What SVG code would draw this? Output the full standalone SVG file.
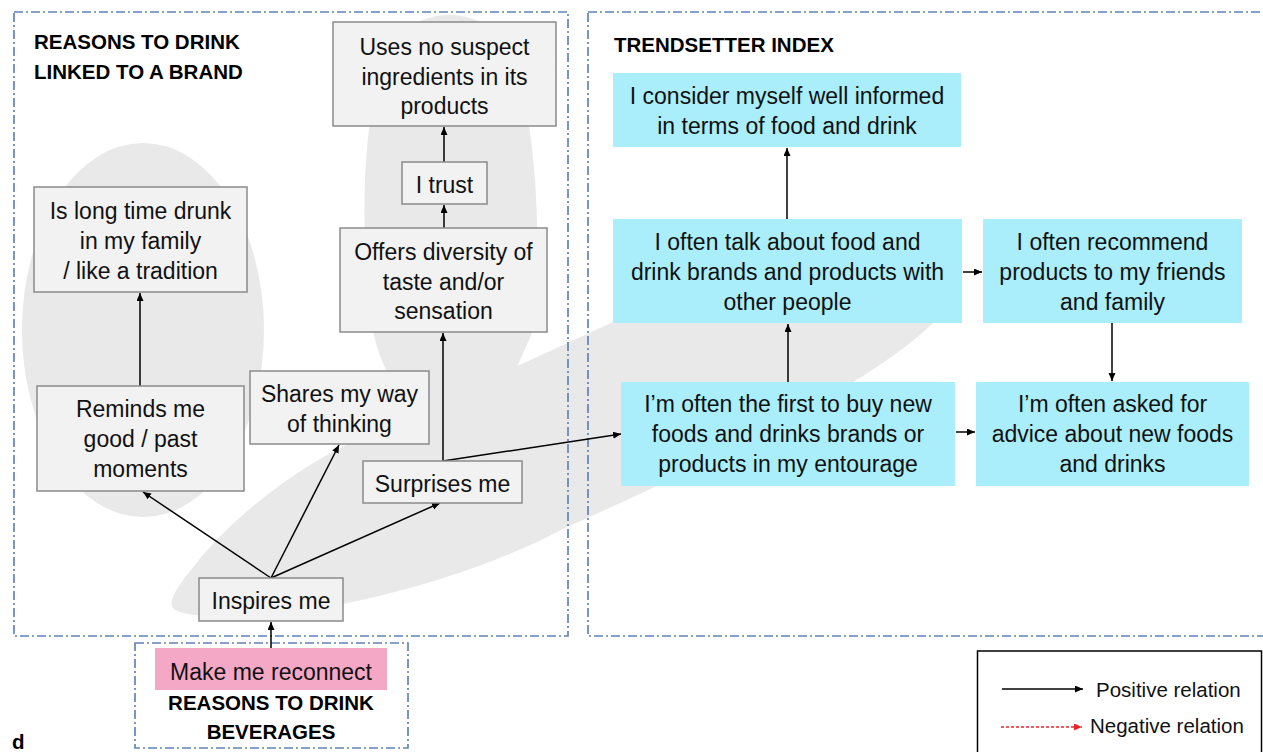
<svg xmlns="http://www.w3.org/2000/svg" width="1263" height="752" viewBox="0 0 1263 752">
<defs>
<marker id="ah" markerWidth="9" markerHeight="8" refX="8" refY="3.5" orient="auto" markerUnits="userSpaceOnUse"><path d="M0,0 L8,3.5 L0,7 z" fill="#000"/></marker>
<marker id="ahr" markerWidth="9" markerHeight="8" refX="8" refY="3.5" orient="auto" markerUnits="userSpaceOnUse"><path d="M0,0 L8,3.5 L0,7 z" fill="#e8262a"/></marker>
<style>
.t{font-family:"Liberation Sans",Arial,sans-serif;font-size:23px;fill:#111;text-anchor:middle}
.b{font-family:"Liberation Sans",Arial,sans-serif;font-size:20.5px;font-weight:bold;fill:#000}
.lg{font-family:"Liberation Sans",Arial,sans-serif;font-size:20.5px;fill:#111}
.g{fill:#f2f2f2;stroke:#8a8a8a;stroke-width:1.5}
.c{fill:#a9eefa}
.p{fill:#f4a8c6}
.dash{fill:none;stroke:#6283bb;stroke-width:1.7;stroke-dasharray:9 3 2 3}
.bg{fill:#e9e9e9}
.ln{stroke:#000;stroke-width:1.5;fill:none;marker-end:url(#ah)}
</style>
</defs>
<rect width="1263" height="752" fill="#fff"/>
<g id="background">
<ellipse class="bg" cx="143" cy="330" rx="121" ry="187"/>
<path class="bg" d="M410,422 C395,385 374,355 372,320 C362,250 360,150 378,80 C392,30 420,15 449,15 C478,15 506,30 520,80 C538,150 542,260 532,333 L517,367 L470,405 Z"/>
<path class="bg" d="M180,612 C240,630 430,600 567,527 C700,468 870,385 933,323 C955,300 960,262 940,252 C860,242 720,280 611,323 L350,443 C290,472 230,520 195,565 C170,595 165,608 180,612 Z"/>
</g>
<g id="panels">
<rect class="dash" x="14" y="12" width="554" height="624"/>
<rect class="dash" x="588" y="12" width="690" height="624"/>
<rect class="dash" x="135" y="643" width="273" height="105"/>
</g>
<g id="connectors">
<line class="ln" x1="271" y1="648" x2="271" y2="622"/>
<line class="ln" x1="271" y1="578" x2="143" y2="492"/>
<line class="ln" x1="271" y1="578" x2="339" y2="445"/>
<line class="ln" x1="271" y1="578" x2="440" y2="503"/>
<line class="ln" x1="140" y1="386" x2="140" y2="293"/>
<line class="ln" x1="443" y1="461" x2="443" y2="333"/>
<line class="ln" x1="443" y1="461" x2="621" y2="434"/>
<line class="ln" x1="444" y1="228" x2="444" y2="205"/>
<line class="ln" x1="444" y1="162" x2="444" y2="127"/>
<line class="ln" x1="788" y1="382" x2="788" y2="324"/>
<line class="ln" x1="787" y1="219" x2="787" y2="148"/>
<line class="ln" x1="963" y1="272" x2="982" y2="272"/>
<line class="ln" x1="1112" y1="323" x2="1112" y2="381"/>
<line class="ln" x1="956" y1="432" x2="975" y2="432"/>
</g>
<g id="title-brand"><text class="b" x="34" y="49">REASONS TO DRINK</text><text class="b" x="34" y="79">LINKED TO A BRAND</text></g>
<g id="title-trend"><text class="b" x="614" y="52">TRENDSETTER INDEX</text></g>
<g id="n-uses"><rect class="g" x="333" y="22" width="223" height="104"/><text class="t" x="444.5" y="55">Uses no suspect</text><text class="t" x="444.5" y="85">ingredients in its</text><text class="t" x="444.5" y="114">products</text></g>
<g id="n-trust"><rect class="g" x="402" y="162" width="85" height="42"/><text class="t" x="444.5" y="193">I trust</text></g>
<g id="n-offers"><rect class="g" x="340" y="228" width="207" height="104"/><text class="t" x="443.5" y="260">Offers diversity of</text><text class="t" x="443.5" y="290">taste and/or</text><text class="t" x="443.5" y="319">sensation</text></g>
<g id="n-long"><rect class="g" x="34" y="187" width="213" height="105"/><text class="t" x="140.5" y="219">Is long time drunk</text><text class="t" x="140.5" y="249">in my family</text><text class="t" x="140.5" y="279">/ like a tradition</text></g>
<g id="n-reminds"><rect class="g" x="37" y="386" width="207" height="105"/><text class="t" x="140.5" y="417">Reminds me</text><text class="t" x="140.5" y="447">good / past</text><text class="t" x="140.5" y="477">moments</text></g>
<g id="n-shares"><rect class="g" x="250" y="371" width="179" height="73"/><text class="t" x="339.5" y="402">Shares my way</text><text class="t" x="339.5" y="432">of thinking</text></g>
<g id="n-surprises"><rect class="g" x="363" y="461" width="159" height="42"/><text class="t" x="442.5" y="492">Surprises me</text></g>
<g id="n-inspires"><rect class="g" x="199" y="578" width="144" height="43"/><text class="t" x="271" y="609">Inspires me</text></g>
<g id="n-reconnect"><rect class="p" x="155" y="648" width="232" height="42"/><text class="t" x="271" y="680">Make me reconnect</text><text class="b" x="271" y="710" text-anchor="middle">REASONS TO DRINK</text><text class="b" x="271" y="739" text-anchor="middle">BEVERAGES</text></g>
<g id="n-consider"><rect class="c" x="613" y="73" width="348" height="74"/><text class="t" x="787" y="104">I consider myself well informed</text><text class="t" x="787" y="134">in terms of food and drink</text></g>
<g id="n-talk"><rect class="c" x="613" y="219" width="349" height="104"/><text class="t" x="787.5" y="250">I often talk about food and</text><text class="t" x="787.5" y="280">drink brands and products with</text><text class="t" x="787.5" y="310">other people</text></g>
<g id="n-recommend"><rect class="c" x="983" y="219" width="259" height="104"/><text class="t" x="1112.5" y="250">I often recommend</text><text class="t" x="1112.5" y="280">products to my friends</text><text class="t" x="1112.5" y="310">and family</text></g>
<g id="n-first"><rect class="c" x="621" y="382" width="334" height="104"/><text class="t" x="788" y="412">I’m often the first to buy new</text><text class="t" x="788" y="442">foods and drinks brands or</text><text class="t" x="788" y="472">products in my entourage</text></g>
<g id="n-asked"><rect class="c" x="976" y="382" width="273" height="104"/><text class="t" x="1112.5" y="412">I’m often asked for</text><text class="t" x="1112.5" y="442">advice about new foods</text><text class="t" x="1112.5" y="472">and drinks</text></g>
<g id="legend">
<rect x="977.5" y="651" width="284" height="120" fill="#fff" stroke="#000" stroke-width="1.5"/>
<line x1="1002" y1="689" x2="1083" y2="689" stroke="#000" stroke-width="1.5" marker-end="url(#ah)"/>
<text class="lg" x="1096" y="697">Positive relation</text>
<line x1="1001" y1="727" x2="1082" y2="727" stroke="#e8262a" stroke-width="1.5" stroke-dasharray="3 2" marker-end="url(#ahr)"/>
<text class="lg" x="1090" y="733">Negative relation</text>
</g>
<text class="b" x="12" y="749">d</text>
</svg>
